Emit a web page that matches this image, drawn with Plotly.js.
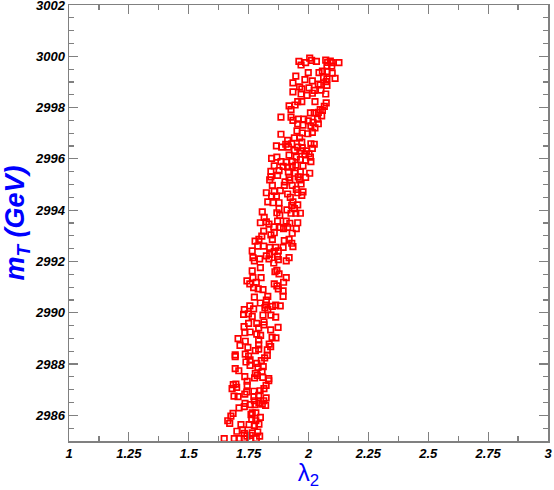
<!DOCTYPE html>
<html>
<head>
<meta charset="utf-8">
<script src="https://cdn.plot.ly/plotly-3.0.1.min.js"></script>
<style>
  html, body { margin: 0; padding: 0; background: #fff; }
  #chart { width: 554px; height: 490px; }
</style>
</head>
<body>
<div id="chart"></div>
<script>
// lambda_2 values of the scan points
const lambda2 = [
  1.960, 1.969, 1.988, 2.005, 2.013, 2.033, 2.072, 2.080, 2.091, 2.099, 2.127, 2.077, 2.097,
  2.058, 2.044, 2.077, 2.099, 1.999, 1.947, 2.063, 2.077, 2.111, 1.935, 1.985, 2.016, 2.041,
  2.049, 2.074, 2.077, 1.963, 1.972, 2.002, 2.024, 2.052, 1.935, 1.969, 1.994, 2.016, 2.072,

  1.919, 1.927, 1.944, 1.955, 1.972, 2.027, 2.074, 2.066, 2.049, 2.041, 2.058, 2.008, 2.024,
  2.055, 2.038, 1.885, 1.927, 1.935, 1.957, 1.980, 1.999, 2.019, 2.041, 1.955, 1.977, 2.010,
  2.027, 1.952, 1.974, 1.997, 2.016, 1.885, 1.941, 1.963, 1.913, 1.930, 1.972, 1.905, 1.866,
  1.888, 1.916, 1.955, 1.974, 2.010, 2.024, 2.016, 1.941, 1.969, 1.991, 1.919, 1.949, 1.985,
  2.002, 1.846, 1.868, 1.885, 1.966, 1.988, 2.008, 2.010, 1.907, 1.932, 1.857, 1.894, 1.913,
  1.932, 1.947, 1.977,

  1.843, 1.877, 1.916, 1.944, 1.966, 2.005, 1.988, 1.843, 1.871, 1.919, 1.957, 1.838, 1.902,
  1.922, 1.963, 1.849, 1.899, 1.932, 1.969, 1.949, 1.857, 1.882, 1.824, 1.846, 1.866, 1.913,
  1.955, 1.977, 1.972, 1.924, 1.830, 1.852, 1.877, 1.935, 1.930, 1.955, 1.941, 1.910, 1.927,
  1.947, 1.966, 1.807, 1.877, 1.868, 1.880, 1.815, 1.824, 1.799, 1.835, 1.871, 1.907, 1.922,
  1.955, 1.855, 1.882, 1.896, 1.913, 1.949, 1.813, 1.932, 1.843, 1.857, 1.805, 1.849, 1.777,
  1.793, 1.899, 1.919, 1.930, 1.935, 1.813, 1.788, 1.838, 1.863, 1.894,

  1.765, 1.857, 1.874, 1.838, 1.824, 1.871, 1.768, 1.774, 1.796, 1.835, 1.855, 1.874, 1.907,
  1.919, 1.799, 1.765, 1.860, 1.877, 1.868, 1.768, 1.802, 1.907, 1.743, 1.755, 1.782, 1.857,
  1.868, 1.896, 1.771, 1.790, 1.810, 1.874, 1.894, 1.894, 1.774, 1.830, 1.824, 1.821, 1.799,
  1.755, 1.732, 1.771, 1.818, 1.830, 1.849, 1.863, 1.882, 1.749, 1.729, 1.765, 1.810, 1.843,
  1.863,

  1.731, 1.750, 1.784, 1.814, 1.814, 1.792, 1.873, 1.842, 1.734, 1.756, 1.784, 1.800, 1.848,
  1.864, 1.706, 1.736, 1.792, 1.714, 1.747, 1.792, 1.836, 1.842, 1.778, 1.792, 1.828, 1.694,
  1.694, 1.736, 1.750, 1.828, 1.817, 1.739, 1.756, 1.784, 1.803, 1.756, 1.811, 1.789, 1.694,
  1.709, 1.806, 1.778, 1.786, 1.734, 1.775, 1.809, 1.834, 1.834, 1.744, 1.686, 1.697, 1.744,
  1.823, 1.681, 1.700, 1.814, 1.742, 1.772, 1.798, 1.689, 1.706, 1.734, 1.772, 1.792, 1.823,

  1.710, 1.735, 1.732, 1.757, 1.777, 1.793, 1.807, 1.821, 1.774, 1.813, 1.685, 1.676, 1.765,
  1.760, 1.780, 1.799, 1.663, 1.671, 1.763, 1.780, 1.752, 1.774, 1.793, 1.718, 1.701, 1.724,
  1.732, 1.765, 1.788, 1.743, 1.757, 1.796, 1.648, 1.690, 1.710, 1.732, 1.757, 1.782
];

// top quark partner mass m_T (GeV)
const mT = [
  2999.80, 2999.66, 2999.75, 2999.93, 2999.84, 2999.80, 2999.85, 2999.76, 2999.81, 2999.75, 2999.75, 2999.63, 2999.62,
  2999.42, 2999.36, 2999.40, 2999.34, 2999.36, 2999.23, 2999.18, 2999.12, 2999.14, 2998.96, 2999.09, 2999.04, 2998.92,
  2998.88, 2999.01, 2998.87, 2998.81, 2998.73, 2998.77, 2998.67, 2998.68, 2998.61, 2998.53, 2998.48, 2998.56, 2998.53,

  2998.07, 2997.92, 2998.10, 2998.23, 2998.23, 2998.23, 2998.18, 2998.05, 2997.92, 2997.81, 2997.89, 2997.79, 2997.79,
  2997.68, 2997.55, 2997.63, 2997.63, 2997.50, 2997.55, 2997.55, 2997.48, 2997.42, 2997.37, 2997.37, 2997.32, 2997.29,
  2997.21, 2997.09, 2997.01, 2996.98, 2997.03, 2996.96, 2996.82, 2996.82, 2996.72, 2996.59, 2996.65, 2996.57, 2996.51,
  2996.46, 2996.46, 2996.46, 2996.43, 2996.59, 2996.57, 2996.41, 2996.33, 2996.31, 2996.31, 2996.15, 2996.07, 2996.18,
  2996.20, 2996.02, 2996.07, 2995.89, 2995.97, 2995.94, 2996.07, 2995.89, 2995.87, 2995.89, 2995.73, 2995.71, 2995.68,
  2995.71, 2995.76, 2995.73,

  2995.51, 2995.54, 2995.49, 2995.44, 2995.49, 2995.44, 2995.28, 2995.30, 2995.36, 2995.28, 2995.30, 2995.18, 2995.10,
  2995.18, 2995.18, 2994.97, 2994.97, 2994.97, 2995.02, 2994.81, 2994.73, 2994.76, 2994.68, 2994.55, 2994.55, 2994.63,
  2994.68, 2994.71, 2994.58, 2994.50, 2994.32, 2994.29, 2994.29, 2994.32, 2994.19, 2994.21, 2994.06, 2994.01, 2993.88,
  2993.88, 2993.88, 2993.93, 2994.06, 2993.90, 2993.80, 2993.72, 2993.54, 2993.51, 2993.46, 2993.57, 2993.57, 2993.49,
  2993.51, 2993.35, 2993.33, 2993.28, 2993.33, 2993.28, 2993.18, 2993.10, 2993.04, 2993.12, 2992.99, 2992.86, 2992.79,
  2992.86, 2992.81, 2992.86, 2992.71, 2992.58, 2992.60, 2992.60, 2992.55, 2992.55, 2992.55,

  2992.41, 2992.38, 2992.41, 2992.28, 2992.22, 2992.20, 2992.15, 2992.02, 2992.10, 2992.10, 2991.94, 2992.07, 2992.02,
  2992.15, 2991.76, 2991.63, 2991.60, 2991.52, 2991.65, 2991.37, 2991.37, 2991.37, 2991.24, 2991.13, 2991.19, 2991.13,
  2991.05, 2991.19, 2990.98, 2990.93, 2990.90, 2990.93, 2990.85, 2990.64, 2990.61, 2990.64, 2990.49, 2990.30, 2990.38,
  2990.27, 2990.12, 2990.15, 2990.20, 2990.12, 2990.25, 2990.30, 2990.27, 2989.96, 2989.94, 2989.86, 2989.91, 2989.91,
  2989.83,

  2989.46, 2989.59, 2989.59, 2989.64, 2989.53, 2989.41, 2989.43, 2989.33, 2989.22, 2989.25, 2989.17, 2989.12, 2989.04,
  2989.02, 2988.99, 2988.89, 2988.94, 2988.73, 2988.65, 2988.75, 2988.78, 2988.68, 2988.52, 2988.58, 2988.55, 2988.36,
  2988.29, 2988.39, 2988.31, 2988.34, 2988.24, 2988.08, 2988.16, 2988.03, 2988.13, 2987.95, 2987.90, 2987.87, 2987.82,
  2987.74, 2987.72, 2987.64, 2987.56, 2987.51, 2987.46, 2987.48, 2987.43, 2987.35, 2987.33, 2987.20, 2987.22, 2987.17,
  2987.17, 2987.04, 2987.09, 2987.04, 2986.91, 2986.94, 2986.96, 2986.75, 2986.73, 2986.83, 2986.73, 2986.78, 2986.68,

  2986.29, 2986.47, 2986.34, 2986.42, 2986.42, 2986.49, 2986.44, 2986.39, 2986.57, 2986.57, 2986.08, 2985.97, 2986.10,
  2986.03, 2986.10, 2985.92, 2985.79, 2985.69, 2985.85, 2985.79, 2985.64, 2985.61, 2985.66, 2985.64, 2985.38, 2985.43,
  2985.30, 2985.32, 2985.35, 2985.19, 2985.22, 2985.19, 2985.09, 2985.09, 2985.09, 2985.09, 2985.07, 2985.09
];

const tickFont = { family: 'Liberation Sans, Arial, sans-serif', size: 13, color: '#000', weight: 'bold', style: 'italic' };
const titleFont = { family: 'Liberation Sans, Arial, sans-serif', size: 27, color: '#0000ff', weight: 'bold', style: 'italic' };

const trace = {
  x: lambda2,
  y: mT,
  type: 'scatter',
  mode: 'markers',
  marker: {
    symbol: 'square-open',
    size: 5.5,
    color: '#ff0000',
    line: { color: '#ff0000', width: 1.7 }
  },
  hoverinfo: 'x+y'
};

const axisBase = {
  showgrid: false,
  zeroline: false,
  showline: true,
  linecolor: '#808080',
  linewidth: 1.5,
  mirror: 'ticks',
  ticks: 'inside',
  ticklen: 9,
  tickwidth: 1.2,
  tickcolor: '#808080',
  tickfont: tickFont,
  ticklabeloverflow: 'allow'
};

const layout = {
  width: 554,
  height: 490,
  margin: { l: 69, r: 6, t: 5, b: 49 },
  paper_bgcolor: '#fff',
  plot_bgcolor: '#fff',
  showlegend: false,
  xaxis: Object.assign({}, axisBase, {
    range: [1, 3],
    tick0: 1,
    dtick: 0.25,
    minor: { dtick: 0.125, ticklen: 5, tickcolor: '#808080', tickwidth: 1.2, ticks: 'inside' },
    title: { text: 'λ<sub>2</sub>', font: Object.assign({}, titleFont, { weight: 'normal', style: 'normal', size: 24 }), standoff: 8 }
  }),
  yaxis: Object.assign({}, axisBase, {
    range: [2985, 3002],
    tick0: 2984,
    dtick: 2,
    minor: { dtick: 0.5, ticklen: 5, tickcolor: '#808080', tickwidth: 1.2, ticks: 'inside' },
    title: { text: 'm<sub>T</sub> (GeV)', font: titleFont, standoff: 7 }
  })
};

Plotly.newPlot('chart', [trace], layout, { displayModeBar: false, staticPlot: true });
</script>
</body>
</html>
